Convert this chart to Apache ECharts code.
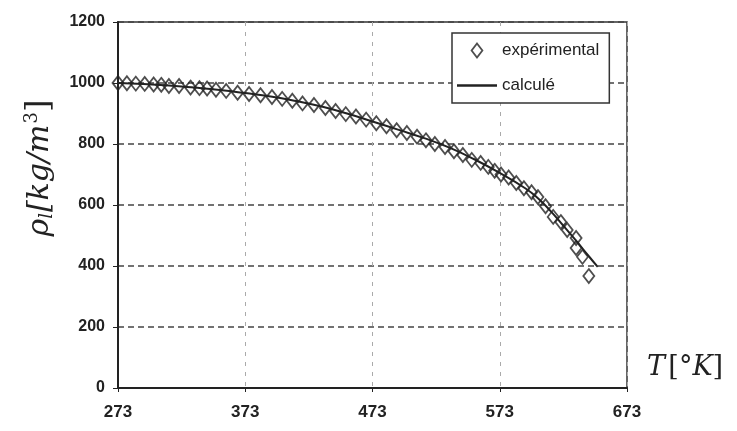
<!DOCTYPE html>
<html>
<head>
<meta charset="utf-8">
<script src="https://cdn.jsdelivr.net/npm/echarts@6/dist/echarts.min.js"></script>
<style>
  html, body { margin: 0; padding: 0; background: #fff; }
  #main { width: 737px; height: 431px; }
</style>
</head>
<body>
<div id="main"></div>
<script>
const expT = [273, 280, 287, 294, 301, 307, 313, 321, 330, 337, 343, 350, 358, 367, 376, 385,
  394, 402, 410, 418, 427, 436, 444, 452, 460, 468, 476, 484, 492, 500, 508, 515, 522, 530,
  537, 544, 551, 558, 564, 569, 574, 580, 586, 592, 598, 603, 609, 615, 621, 626, 633, 633, 638, 643];
const expRho = [1000, 999, 998, 997, 995, 994, 990, 990, 985, 983, 982, 978, 974, 968, 964, 960,
  954, 948, 942, 933, 928, 918, 908, 898, 890, 880, 868, 858, 845, 836, 824, 812, 800, 790,
  776, 764, 748, 738, 725, 712, 700, 690, 672, 655, 642, 626, 596, 561, 544, 518, 492, 459, 430, 367];

// calculated curve
const calcT = [273, 293, 313, 333, 353, 373, 393, 413, 433, 453, 473, 493, 513, 533, 553, 573,
  593, 603, 613, 623, 633, 643, 650];
const calcRho = [1000, 997, 992, 985, 977, 967, 956, 941, 923, 900, 874, 847, 820, 789, 750, 705,
  655, 622, 580, 532, 483, 432, 397];

const xTicks = [273, 373, 473, 573, 673];
const yTicks = [0, 200, 400, 600, 800, 1000, 1200];

const chart = echarts.init(document.getElementById('main'));

const expData = expT.map((t, i) => [t, expRho[i]]);
const calcData = calcT.map((t, i) => [t, calcRho[i]]);

chart.setOption({
  backgroundColor: '#fff',
  animation: false,
  grid: {
    left: 118, right: 110, top: 22, bottom: 43,
    show: true, borderColor: '#333', borderWidth: 1.5
  },
  legend: {
    orient: 'vertical',
    left: 452, top: 33,
    padding: [9, 10, 9, 5],
    itemGap: 18,
    itemWidth: 40, itemHeight: 14,
    symbolKeepAspect: true,
    borderColor: '#333', borderWidth: 1.5,
    backgroundColor: '#fff',
    textStyle: { fontFamily: 'Liberation Sans', fontSize: 17, color: '#222' },
    data: [
      { name: 'expérimental', icon: 'path://M5,0L10,6.5L5,13L0,6.5Z',
        itemStyle: { color: '#fff', borderColor: '#222', borderWidth: 1.8 } },
      { name: 'calculé', icon: 'path://M0,0H40V2.5H0Z',
        itemStyle: { color: '#222' } }
    ]
  },
  xAxis: {
    type: 'value',
    min: xTicks[0], max: xTicks[xTicks.length - 1], interval: 100,
    axisLine: { show: true, lineStyle: { color: '#222', width: 2 } },
    axisTick: { show: true, length: 4, lineStyle: { color: '#222' } },
    axisLabel: { margin: 16, fontFamily: 'Liberation Sans', fontWeight: 'bold', fontSize: 17, color: '#222' },
    splitLine: { show: true, lineStyle: { color: '#aaa', type: [4, 6], width: 1 } }
  },
  yAxis: {
    type: 'value',
    min: yTicks[0], max: yTicks[yTicks.length - 1], interval: 200,
    axisLine: { show: true, lineStyle: { color: '#222', width: 2 } },
    axisTick: { show: true, length: 5, lineStyle: { color: '#222' } },
    axisLabel: {
      margin: 13, fontFamily: 'Liberation Sans', fontWeight: 'bold', fontSize: 16, color: '#222',
      formatter: v => String(v)
    },
    splitLine: { show: true, lineStyle: { color: '#444', type: [6, 4], width: 1.5 } }
  },
  graphic: [
    {
      type: 'text', x: 40, y: 168, rotation: Math.PI / 2,
      style: {
        text: '{i|ρ}{s|l}{i|[kg/m}{p|3}{n|]}',
        align: 'center', verticalAlign: 'middle',
        rich: {
          i: { fontFamily: 'DejaVu Serif', fontStyle: 'italic', fontSize: 30, fill: '#222' },
          n: { fontFamily: 'DejaVu Serif', fontSize: 32, fill: '#222' },
          s: { fontFamily: 'DejaVu Serif', fontStyle: 'italic', fontSize: 18, fill: '#222', padding: [14, 1, 0, 0] },
          p: { fontFamily: 'DejaVu Serif', fontSize: 18, fill: '#222', padding: [0, 0, 16, 1] }
        }
      }
    },
    {
      type: 'text', x: 647, y: 368,
      style: {
        text: '{i|T} {n|[°}{i|K}{n|]}',
        align: 'left', verticalAlign: 'middle',
        rich: {
          i: { fontFamily: 'DejaVu Serif', fontStyle: 'italic', fontSize: 27, fill: '#222' },
          n: { fontFamily: 'DejaVu Serif', fontSize: 27, fill: '#222' }
        }
      }
    }
  ],
  series: [
    {
      name: 'calculé',
      type: 'line',
      data: calcData,
      smooth: true,
      showSymbol: false,
      symbol: 'none',
      itemStyle: { color: '#222' },
      lineStyle: { color: '#222', width: 2 },
      z: 3
    },
    {
      name: 'expérimental',
      type: 'scatter',
      data: expData,
      symbol: 'diamond',
      symbolSize: [11, 14],
      itemStyle: { color: 'rgba(255,255,255,0)', borderColor: '#222', borderWidth: 1.8 },
      z: 2
    }
  ]
});
</script>
</body>
</html>
